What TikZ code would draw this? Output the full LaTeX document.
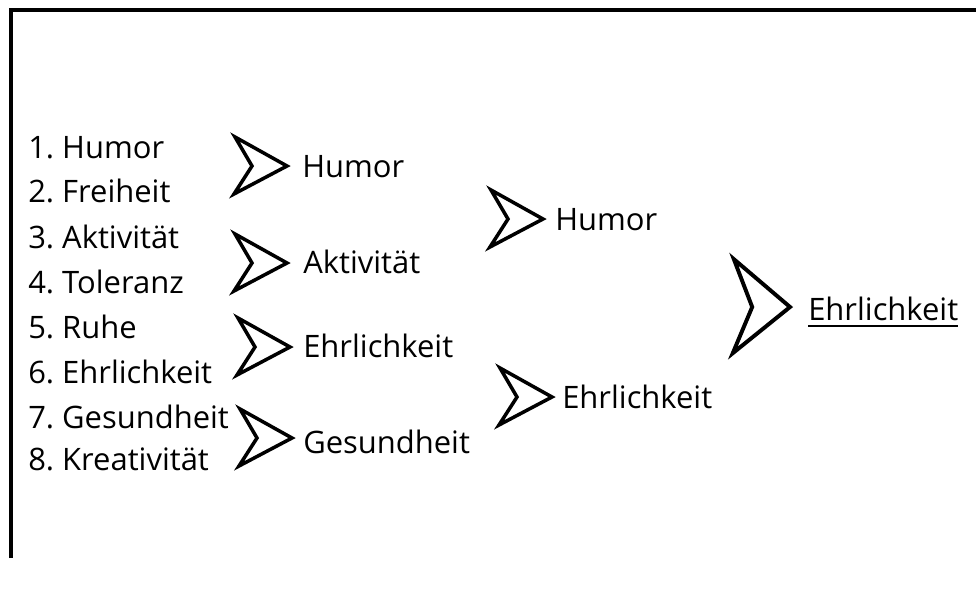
\documentclass[tikz,border=0pt]{standalone}
\usepackage{fontspec}
\setmainfont{Open Sans}
\frenchspacing
\tikzset{
  word/.style={anchor=base west, inner sep=0pt, font=\fontsize{22}{26}\selectfont},
  pics/dart/.style={code={\draw[line width=#1, line join=miter, miter limit=20]
    (0,0) -- (-52,-29) -- (-35,0) -- (-53,28) -- cycle;}},
}
\begin{document}
\begin{tikzpicture}[x=0.025cm,y=-0.025cm]
\useasboundingbox (0,0) rectangle (976,592);
% frame
\draw[line width=2.8pt, line join=miter] (11,558) -- (11,10) -- (977,10);
% list
\node[word] (l1) at (28,158) {1. Humor};
\node[word] (l2) at (28,202) {2. Freiheit};
\node[word] (l3) at (28,248) {3. Aktivität};
\node[word] (l4) at (28,293) {4. Toleranz};
\node[word] (l5) at (28,338) {5. Ruhe};
\node[word] (l6) at (28,383) {6. Ehrlichkeit};
\node[word] (l7) at (28,428) {7. Gesundheit};
\node[word] (l8) at (28,470) {8. Kreativität};
% first round
\pic at (287,166) {dart=2.5pt};
\pic at (287,263) {dart=2.5pt};
\pic at (290,347) {dart=2.5pt};
\pic at (292,438) {dart=2.5pt};
\node[word] (a1) at (302,177) {Humor};
\node[word] (a2) at (303,273) {Aktivität};
\node[word] (a3) at (303,357) {Ehrlichkeit};
\node[word] (a4) at (303,453) {Gesundheit};
% second round
\pic at (543,219) {dart=2.5pt};
\pic at (552,397) {dart=2.5pt};
\node[word] (b1) at (555,230) {Humor};
\node[word] (b2) at (562,408) {Ehrlichkeit};
% final
\pic[xscale=1.08, yscale=1.65] at (790,307) {dart=2.8pt};
\node[word] (f) at (808,320) {Ehrlichkeit};
\draw[line width=1.4pt] ([yshift=-0.15cm]f.base west) -- ([yshift=-0.15cm]f.base east);
\end{tikzpicture}
\end{document}
